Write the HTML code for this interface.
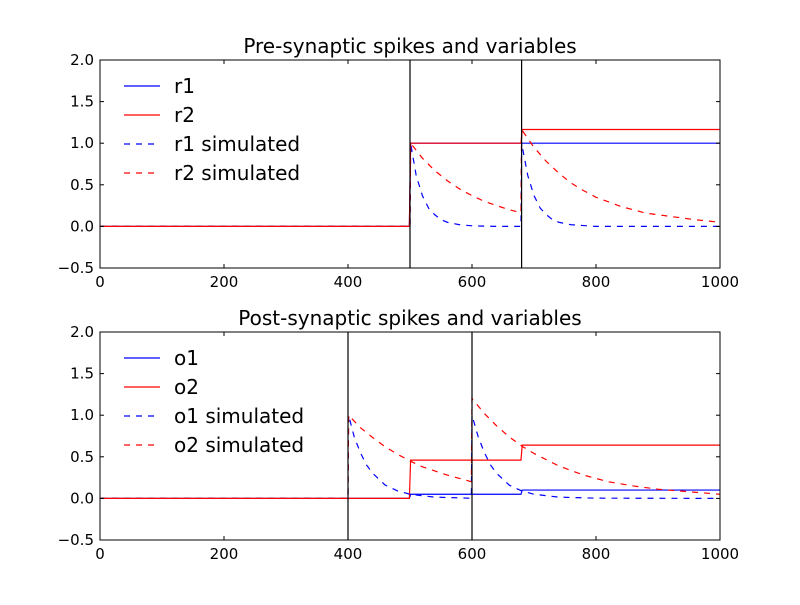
<!DOCTYPE html>
<html><head><meta charset="utf-8"><style>
body{margin:0;background:#fff}
svg{font-family:"DejaVu Sans","Liberation Sans",sans-serif}
</style></head><body>
<svg id="c" width="800" height="600" viewBox="0 0 800 600">
<rect width="800" height="600" fill="#fff"/>
</svg>
<script>
// ---- data ----
const xTicks = [0, 200, 400, 600, 800, 1000];
const yTicks = [-0.5, 0.0, 0.5, 1.0, 1.5, 2.0];
const yTickLabels = ["\u22120.5", "0.0", "0.5", "1.0", "1.5", "2.0"];
const preSpikes = [500, 680];
const postSpikes = [400, 600];
const r1 = [[0,0],[499,0],[501,1],[1000,1]];
const r2 = [[0,0],[499,0],[501,1],[679,1],[681,1.165],[1000,1.165]];
const r1Sim = [[0,0],[500,0],[501,1],[510,0.61],[520,0.37],[530,0.22],[540,0.14],[550,0.08],[560,0.05],[580,0.02],[600,0.007],[640,0],[679,0],[680,1],[690,0.61],[700,0.37],[710,0.22],[720,0.14],[730,0.08],[740,0.05],[760,0.02],[780,0.01],[800,0],[1000,0]];
const r2Sim = [[0,0],[500,0],[501,1],[520,0.82],[540,0.67],[560,0.55],[580,0.45],[600,0.37],[620,0.30],[640,0.25],[660,0.20],[679,0.165],[680,1.165],[700,0.95],[720,0.78],[740,0.64],[760,0.52],[780,0.43],[800,0.35],[840,0.24],[880,0.16],[920,0.12],[960,0.08],[1000,0.05]];
const o1 = [[0,0],[499,0],[501,0.05],[679,0.05],[681,0.1],[1000,0.1]];
const o2 = [[0,0],[499,0],[501,0.46],[679,0.46],[681,0.64],[1000,0.64]];
const o1Sim = [[0,0],[400,0],[401,1],[410,0.74],[420,0.55],[430,0.40],[440,0.30],[460,0.16],[480,0.09],[500,0.05],[540,0.015],[599,0.002],[600,1],[610,0.74],[620,0.55],[630,0.40],[640,0.30],[660,0.16],[680,0.09],[700,0.05],[740,0.015],[800,0.003],[1000,0]];
const o2Sim = [[0,0],[400,0],[401,1],[420,0.85],[440,0.73],[460,0.62],[480,0.53],[500,0.45],[520,0.38],[540,0.33],[560,0.28],[580,0.24],[599,0.20],[600,1.2],[620,1.02],[640,0.87],[660,0.74],[680,0.63],[700,0.54],[740,0.39],[780,0.28],[820,0.20],[860,0.15],[900,0.11],[950,0.08],[1000,0.05]];

const NS="http://www.w3.org/2000/svg";
const svg=document.getElementById('c');
function el(tag,attrs,parent){const e=document.createElementNS(NS,tag);for(const k in attrs)e.setAttribute(k,attrs[k]);(parent||svg).appendChild(e);return e;}

function panel(top,title,prefix,spikes,series,names){
  const L=100,R=720,T=top,B=top+208;
  const sx=v=>L+(v-0)/1000*(R-L);
  const sy=v=>B-(v+0.5)/2.5*(B-T);
  const g=el('g',{});
  
  
  const clipId='clip'+prefix;
  const cp=el('clipPath',{id:clipId},g);el('rect',{x:L,y:T,width:R-L,height:B-T},cp);
  const data=el('g',{'clip-path':'url(#'+clipId+')'},g);
  series.forEach((s,i)=>{
    const p=el('polyline',{points:s.pts.map(d=>sx(d[0]).toFixed(2)+','+sy(d[1]).toFixed(2)).join(' '),fill:'none',stroke:s.color,'stroke-width':1.2},data);
    if(s.dash)p.setAttribute('stroke-dasharray','6,6');
    
    
  });
  spikes.forEach(t=>{
    const l=el('line',{x1:sx(t),x2:sx(t),y1:T,y2:B,stroke:'#000','stroke-width':1.2},data);
    
    
  });
  const fr=el('rect',{x:L,y:T,width:R-L,height:B-T,fill:'none',stroke:'#000','stroke-width':1},g);
  
  
  xTicks.forEach(v=>{
    const x=sx(v);
    el('line',{x1:x,x2:x,y1:B,y2:B-4,stroke:'#000'},g);
    el('line',{x1:x,x2:x,y1:T,y2:T+4,stroke:'#000'},g);
    const t=el('text',{x:x,y:B+19,'text-anchor':'middle','font-size':15},g);t.textContent=v;
    
    
  });
  yTicks.forEach((v,i)=>{
    const y=sy(v);
    el('line',{x1:L,x2:L+4,y1:y,y2:y,stroke:'#000'},g);
    el('line',{x1:R,x2:R-4,y1:y,y2:y,stroke:'#000'},g);
    const t=el('text',{x:L-6,y:y+5,'text-anchor':'end','font-size':15},g);t.textContent=yTickLabels[i];
    
    
  });
  const tt=el('text',{x:(L+R)/2,y:T-7,'text-anchor':'middle','font-size':20},g);tt.textContent=title;
  
  
  series.forEach((s,i)=>{
    const y=T+26+i*29;
    const lg=el('g',{},g);
    
    
    const l=el('line',{x1:124,x2:160,y1:y,y2:y,stroke:s.color,'stroke-width':1.2},lg);
    if(s.dash)l.setAttribute('stroke-dasharray','6,6');
    const t=el('text',{x:174,y:y+7,'font-size':20},lg);t.textContent=names[i];
  });
}
panel(60,'Pre-synaptic spikes and variables','pre',preSpikes,
 [{pts:r1,color:'#0000ff'},{pts:r2,color:'#ff0000'},{pts:r1Sim,color:'#0000ff',dash:1},{pts:r2Sim,color:'#ff0000',dash:1}],
 ['r1','r2','r1 simulated','r2 simulated']);
panel(332,'Post-synaptic spikes and variables','post',postSpikes,
 [{pts:o1,color:'#0000ff'},{pts:o2,color:'#ff0000'},{pts:o1Sim,color:'#0000ff',dash:1},{pts:o2Sim,color:'#ff0000',dash:1}],
 ['o1','o2','o1 simulated','o2 simulated']);
</script>
</body></html>
